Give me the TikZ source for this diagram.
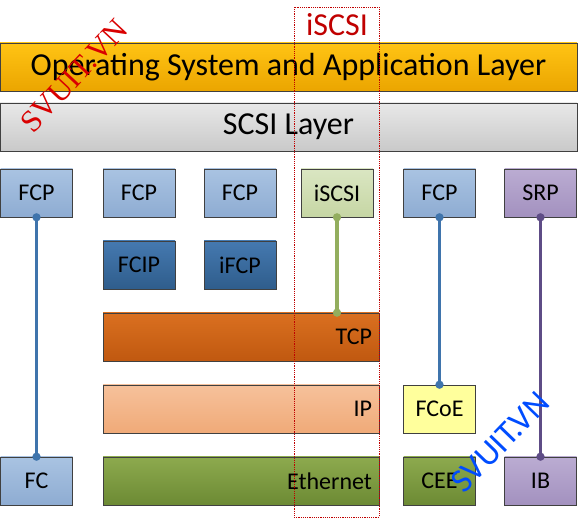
\documentclass[tikz,border=0pt]{standalone}
\usepackage{fontspec}
\setmainfont{Carlito}
\newfontfamily\wmserif{Liberation Serif}
\usetikzlibrary{arrows.meta,positioning}

\definecolor{osTop}{HTML}{FFC414}
\definecolor{osBot}{HTML}{EBA500}
\definecolor{scsiTop}{HTML}{E8E8E8}
\definecolor{scsiBot}{HTML}{C9C9C9}
\definecolor{fcpTop}{HTML}{A9C3E2}
\definecolor{fcpBot}{HTML}{8EACD2}
\definecolor{dkTop}{HTML}{4579B0}
\definecolor{dkBot}{HTML}{2F5D8C}
\definecolor{isTop}{HTML}{DAE6C2}
\definecolor{isBot}{HTML}{C6D6A4}
\definecolor{srpTop}{HTML}{BBACD2}
\definecolor{srpBot}{HTML}{A391BF}
\definecolor{tcpTop}{HTML}{DA7020}
\definecolor{tcpBot}{HTML}{C05810}
\definecolor{ipTop}{HTML}{F6C19B}
\definecolor{ipBot}{HTML}{F0AA78}
\definecolor{ethTop}{HTML}{8DAA4E}
\definecolor{ethBot}{HTML}{6C8A34}
\definecolor{fcoeY}{HTML}{FFFF9C}
\definecolor{lnBlue}{HTML}{3F74AC}
\definecolor{lnGreen}{HTML}{93AE5E}
\definecolor{lnPurple}{HTML}{5E4C86}
\definecolor{bandRed}{HTML}{C00000}

\begin{document}
\begin{tikzpicture}[x=1pt,y=-1pt,
  layer/.style={draw=black!75,line width=0.6pt,minimum width=577pt,minimum height=48pt,inner sep=0pt,font=\fontsize{32}{33}\selectfont},
  proto/.style={draw=black!75,line width=0.6pt,minimum width=72pt,minimum height=48pt,inner sep=0pt,font=\fontsize{24}{25}\selectfont},
  wide/.style={proto,minimum width=276pt,text width=262pt,align=right,inner xsep=7pt},
  link/.style={{Circle[length=8pt]}-{Circle[length=8pt]},line width=3.6pt,shorten <=-4pt,shorten >=-4pt},
  band/.style={draw=bandRed,line width=0.7pt,dash pattern=on 1.2pt off 1pt,minimum width=85pt,minimum height=510pt,inner sep=0pt}
]
  \useasboundingbox (0,0) rectangle (579,521);

  % upper layers
  \node[layer,top color=osTop,bottom color=osBot] (os) at (288.5,67) {Operating System and Application Layer};
  \node[layer,top color=scsiTop,bottom color=scsiBot] (scsi) at (288.5,127) {SCSI Layer};

  % protocol row
  \node[proto,top color=fcpTop,bottom color=fcpBot] (fcpA) at (36.5,193) {FCP};
  \node[proto,top color=fcpTop,bottom color=fcpBot] (fcpB) at (139,193) {FCP};
  \node[proto,top color=fcpTop,bottom color=fcpBot] (fcpC) at (240,193) {FCP};
  \node[proto,top color=isTop,bottom color=isBot] (iscsi) at (337,193) {iSCSI};
  \node[proto,top color=fcpTop,bottom color=fcpBot] (fcpD) at (439.5,193) {FCP};
  \node[proto,top color=srpTop,bottom color=srpBot] (srp) at (540.5,193) {SRP};

  \node[proto,top color=dkTop,bottom color=dkBot] (fcip) at (139,265) {FCIP};
  \node[proto,top color=dkTop,bottom color=dkBot] (ifcp) at (240,265) {iFCP};

  % transport and link
  \node[wide,top color=tcpTop,bottom color=tcpBot] (tcp) at (241,337) {TCP};
  \node[wide,top color=ipTop,bottom color=ipBot] (ip) at (241,409) {IP};
  \node[proto,fill=fcoeY] (fcoe) at (439.5,409) {FCoE};
  \node[wide,top color=ethTop,bottom color=ethBot] (eth) at (241,481) {Ethernet};
  \node[proto,top color=fcpTop,bottom color=fcpBot] (fc) at (36.5,481) {FC};
  \node[proto,top color=ethTop,bottom color=ethBot] (cee) at (439.5,481) {CEE};
  \node[proto,top color=srpTop,bottom color=srpBot] (ib) at (540.5,481) {IB};

  \draw[link,lnBlue] (fcpA.south) -- (fc.north);
  \draw[link,lnGreen] (iscsi.south) -- (tcp.north -| iscsi.south);
  \draw[link,lnBlue] (fcpD.south) -- (fcoe.north);
  \draw[link,lnPurple] (srp.south) -- (ib.north);

  % iSCSI stack
  \node[band] (stack) at (336.5,262) {};
  \node[font=\fontsize{32}{33}\selectfont,text=bandRed,inner sep=0pt] (stacklbl) at (337,25) {iSCSI};

  % watermarks
  \node[font=\wmserif\fontsize{31}{32}\selectfont,text=red!85!black,rotate=47,inner sep=0pt] (wmA) at (74,76) {SVUIT.VN};
  \node[font=\fontsize{34}{35}\selectfont,text=blue!70!cyan,rotate=46,inner sep=0pt] (wmB) at (500,442) {SVUIT.VN};
\end{tikzpicture}
\end{document}
